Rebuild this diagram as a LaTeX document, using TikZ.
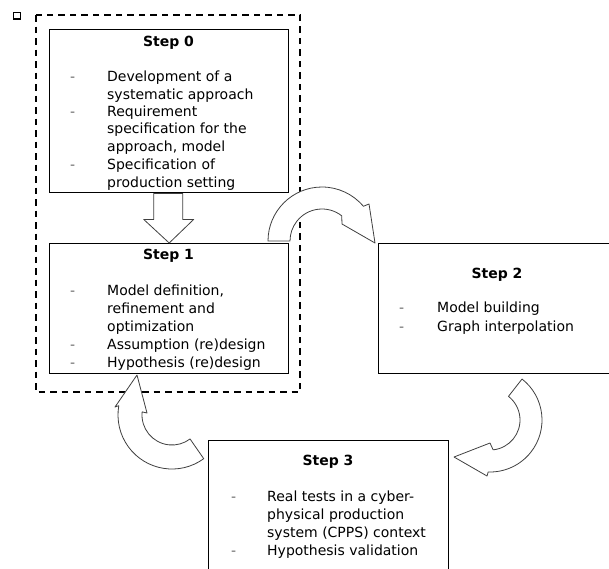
\documentclass[tikz,border=0pt]{standalone}
\usepackage{fontspec}
\setmainfont{DejaVu Sans}
\usetikzlibrary{calc}
\begin{document}
\begin{tikzpicture}[x=1pt,y=1pt,
  stepbox/.style={draw=black, line width=1.4pt, fill=white, inner sep=0pt, anchor=north west},
  frame/.style={draw=black, line width=1.3pt, dash pattern=on 6.5pt off 5pt},
  blockarrow/.style={draw=black!75, line width=0.8pt, fill=white, line join=round},
  title/.style={font=\fontsize{14}{17}\selectfont\bfseries, anchor=base, inner sep=0pt},
  item/.style={font=\fontsize{14}{17}\selectfont, anchor=base west, inner sep=0pt, text=black},
  bullet/.style={item, text=black!60}]

\useasboundingbox (0,0) rectangle (609,-568);
\clip (0,0) rectangle (609,-568);

% small marker in the corner
\draw[line width=1.6pt] (13.5,-12.5) rectangle (20.5,-19);

% dashed frame around steps 0 and 1
\draw[frame] (36,-15) rectangle (300,-392);

% step boxes
\node[stepbox, minimum width=239pt, minimum height=163pt] (s0) at (49,-29) {};
\node[stepbox, minimum width=239pt, minimum height=130pt] (s1) at (49,-243) {};
\node[stepbox, minimum width=238pt, minimum height=130pt] (s2) at (378,-243) {};
\node[stepbox, minimum width=240pt, minimum height=160pt] (s3) at (208,-440) {};

% straight block arrow from step 0 to step 1
\draw[blockarrow] ($(s0.south)+(-15.5,0)$) -- ++(0,-26) -- ++(-10,0)
  -- (s1.north) -- ($(s0.south)+(24.5,-26)$) -- ++(-11,0) -- ($(s0.south)+(13.5,0)$) -- cycle;

% curved block arrow: step 1 -> step 2
\coordinate (cA) at (322,-241);
\draw[blockarrow] ($(cA)+(180:54pt)$) arc[start angle=180, end angle=40, radius=54pt]
  -- (369,-204) -- (375,-243) -- (342,-224)
  -- ($(cA)+(52:32pt)$) arc[start angle=52, end angle=180, radius=32pt] -- cycle;

% curved block arrow: step 2 -> step 3
\coordinate (cB) at (490,-420);
\draw[blockarrow] ($(cB)+(52:52pt)$) arc[start angle=52, end angle=-92, radius=52pt]
  -- (487,-476) -- (454,-457) -- (490,-443)
  -- ($(cB)+(-84:30pt)$) arc[start angle=-84, end angle=52, radius=30pt] -- cycle;

% curved block arrow: step 3 -> step 1
\coordinate (cC) at (172,-415);
\draw[blockarrow] ($(cC)+(-54:54pt)$) arc[start angle=-54, end angle=-190, radius=54pt]
  -- (115,-407) -- (137,-375) -- (147,-413)
  -- ($(cC)+(174:30pt)$) arc[start angle=174, end angle=307, radius=30pt] -- cycle;

% Step 0
\node[title] (t0) at (168.5,-46) {Step 0};
\node[bullet] (d0a) at (70,-81) {-};
\node[item] (i0a) at (107,-81) {Development of a};
\node[item] (i0b) at (107,-99) {systematic approach};
\node[bullet] (d0b) at (70,-116) {-};
\node[item] (i0c) at (107,-116) {Requirement};
\node[item] (i0d) at (107,-133.5) {specification for the};
\node[item] (i0e) at (107,-151) {approach, model};
\node[bullet] (d0c) at (70,-169) {-};
\node[item] (i0f) at (107,-169) {Specification of};
\node[item] (i0g) at (107,-187) {production setting};

% Step 1
\node[title] (t1) at (168.5,-259) {Step 1};
\node[bullet] (d1a) at (70,-295) {-};
\node[item] (i1a) at (107,-295) {Model definition,};
\node[item] (i1b) at (107,-313) {refinement and};
\node[item] (i1c) at (107,-331) {optimization};
\node[bullet] (d1b) at (70,-349) {-};
\node[item] (i1d) at (107,-349) {Assumption (re)design};
\node[bullet] (d1c) at (70,-367) {-};
\node[item] (i1e) at (107,-367) {Hypothesis (re)design};

% Step 2
\node[title] (t2) at (497,-278) {Step 2};
\node[bullet] (d2a) at (399,-312) {-};
\node[item] (i2a) at (437,-312) {Model building};
\node[bullet] (d2b) at (399,-331) {-};
\node[item] (i2b) at (437,-331) {Graph interpolation};

% Step 3
\node[title] (t3) at (328,-465) {Step 3};
\node[bullet] (d3a) at (231,-501) {-};
\node[item] (i3a) at (267,-501) {Real tests in a cyber-};
\node[item] (i3b) at (267,-519) {physical production};
\node[item] (i3c) at (267,-537) {system (CPPS) context};
\node[bullet] (d3b) at (231,-555) {-};
\node[item] (i3d) at (267,-555) {Hypothesis validation};
\end{tikzpicture}
\end{document}
